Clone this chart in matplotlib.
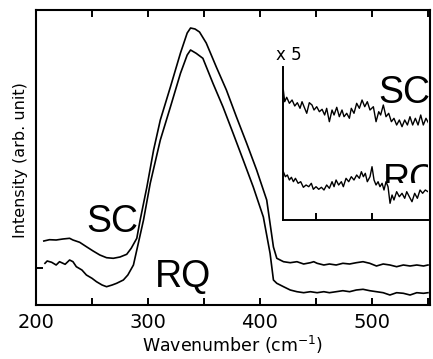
import matplotlib
matplotlib.use("Agg")
import matplotlib.pyplot as plt
from matplotlib.transforms import Bbox, TransformedBbox

# ---- data (wavenumber in cm^-1, intensity in arb. units) ----
sc_x = [207, 212, 218, 224, 230, 233, 239, 245, 251, 257, 263, 269, 275, 281, 285, 290, 293, 299,
        305, 311, 320, 329, 335, 338, 342, 346, 352, 361, 370, 379, 388, 397, 406, 412, 415, 421,
        427, 433, 439, 445, 448, 451, 457, 462, 468, 474, 480, 486, 492, 498, 504, 510, 516, 522,
        528, 534, 540, 546, 550]
sc_y = [64, 65.3, 65, 66, 66.7, 65, 62.7, 58.3, 54, 50, 47.3, 46.7, 48, 50.7, 56.7, 66.7, 85, 118,
        155, 185, 218, 252, 272, 277, 276, 273, 262, 238, 215, 188, 162, 135, 105, 58, 46.7, 43.3,
        42.3, 43.3, 41, 42.3, 43.3, 41.7, 40, 41, 40, 41.7, 41, 42.3, 43.3, 41.7, 39, 41, 40, 38.3,
        40, 39, 40, 39, 40]

rq_x = [208, 210, 214, 218, 221, 226, 230, 233, 236, 241, 245, 250, 254, 259, 263, 268, 272, 278,
        282, 287, 291, 296, 302, 311, 320, 329, 335, 338, 343, 349, 358, 367, 376, 385, 394, 403,
        409, 412, 415, 421, 427, 433, 439, 445, 451, 457, 462, 468, 474, 480, 486, 492, 498, 504,
        510, 516, 522, 528, 534, 540, 546, 550]
rq_y = [41.7, 44, 42.7, 40, 43.3, 40.7, 45, 43.3, 38.3, 35, 30, 26.7, 23.3, 20, 18.3, 20, 21.7, 25,
        30, 40, 60, 85, 121.7, 165, 198, 231.7, 250, 255, 251.7, 246.7, 221.7, 198, 171.7, 145, 118,
        88, 51.7, 25, 21.7, 18.3, 15, 13.3, 12.3, 13.3, 12.3, 13.3, 12.3, 13.3, 14.3, 13.3, 15, 15.7,
        14.3, 13.3, 12.3, 10, 12.3, 11.7, 10, 12.3, 11.7, 12.3]

# inset (x5)
ins_x = [420.8, 422.0, 423.8, 426.2, 428.6, 431.0, 433.3, 435.7, 437.5, 439.3, 441.7, 444.0, 446.4,
         448.2, 450.6, 453.0, 455.4, 457.7, 459.5, 461.9, 464.3, 466.1, 468.5, 470.8, 473.2, 475.0,
         477.4, 479.8, 481.5, 483.9, 486.3, 488.7, 491.1, 493.5, 495.8, 498.2, 501.2, 503.6, 506.0,
         507.7, 510.1, 512.5, 514.9, 517.3, 519.6, 522.0, 524.4, 526.8, 529.2, 531.6, 533.9, 536.3,
         538.7, 541.1, 543.5, 545.8, 548.2, 550.6]
ins_sc = [130, 118.3, 122.7, 116.7, 120, 114, 117.3, 111.7, 118.3, 113.3, 106.7, 117.3, 115, 110,
          113.3, 108.3, 110.7, 105, 111.7, 98.3, 110, 105, 112.7, 103.3, 110, 103.3, 106.7, 101.7,
          111.7, 106.7, 116.7, 111.7, 120, 113.3, 118.3, 110, 113.3, 98.3, 108.3, 105, 115, 103.3,
          106.7, 98.3, 101.7, 95, 100, 93.3, 100, 95, 103.3, 95, 101.7, 95, 105, 95, 101.7, 96.7]

ins_x2 = [420.8, 422.6, 424.4, 426.2, 428.0, 429.8, 431.6, 434.0, 436.3, 438.7, 441.1, 443.5, 445.8,
          447.6, 450.0, 452.4, 454.8, 457.1, 459.5, 461.9, 464.3, 466.1, 467.9, 470.2, 472.6, 474.4,
          476.8, 479.2, 481.5, 483.9, 486.3, 488.7, 490.5, 492.3, 494.0, 495.8, 498.2, 500.0, 501.8,
          503.6, 505.4, 507.1, 509.0, 510.7, 512.5, 514.3, 516.1, 517.9, 519.6, 522.0, 524.4, 526.8,
          529.2, 531.0, 533.3, 535.7, 538.1, 540.5, 542.9, 545.2, 547.6, 550.0]
ins_rq = [48.3, 43.3, 45, 40, 42.7, 38.3, 41.7, 36.7, 38.3, 32.7, 35, 33.3, 36.7, 30.7, 33.3, 30.7,
          32.7, 30, 35, 31.7, 38.3, 33.3, 40, 35, 38.3, 33.3, 41.7, 38.3, 43.3, 40, 45, 41.7, 48.3,
          43.3, 46.7, 38.3, 43.3, 53.3, 40, 35, 38.3, 33.3, 36.7, 30, 38.3, 33.3, 16.7, 25, 20, 28.3,
          23.3, 26.7, 21.7, 28.3, 23.3, 18.3, 26.7, 21.7, 30, 26.7, 30, 28.3]

xticks_major = [200, 300, 400, 500]
xticks_all = [200, 250, 300, 350, 400, 450, 500, 550]
inset_ticks = [450, 500]

# ---- figure ----
W, H = 433, 359
fig = plt.figure(figsize=(W / 100, H / 100), dpi=100)
plt.rcParams['font.family'] = ['DejaVu Sans']

def fr(x0, y0, x1, y1):
    return [x0 / W, 1 - y1 / H, (x1 - x0) / W, (y1 - y0) / H]

ax = fig.add_axes(fr(36, 10, 430, 305))
ax.plot(sc_x, sc_y, color='black', lw=1.2)
ax.plot(rq_x, rq_y, color='black', lw=1.2)
ax.set_xlim(200, 551.8)
ax.set_ylim(0, 295)
for s in ax.spines.values():
    s.set_linewidth(1.5)
ax.set_xticks(xticks_all)
ax.set_xticklabels([str(t) if t in xticks_major else '' for t in xticks_all])
ax.set_yticks([37])
ax.set_yticklabels([''])
ax.tick_params(axis='x', direction='in', length=5, width=1.4, top=True, labelsize=14, pad=6)
ax.tick_params(axis='y', direction='in', length=5, width=1.4)
ax.set_xlabel(r'Wavenumber (cm$^{\mathregular{-1}}$)', fontsize=12.5, labelpad=1)
ax.set_ylabel('Intensity (arb. unit)', fontsize=11.5)
ax.yaxis.set_label_coords(-0.02, 0.49)

big = dict(family='Liberation Sans', fontsize=27, color='black')
ax.text(244.5, 73, 'SC', ha='left', va='baseline', **big)
ax.text(306, 18, 'RQ', ha='left', va='baseline', **big)

# ---- inset ----
axi = fig.add_axes(fr(283, 67, 428, 220))
axi.patch.set_alpha(0)
axi.plot(ins_x, ins_sc, color='black', lw=1.0)
axi.plot(ins_x2, ins_rq, color='black', lw=1.0)
axi.set_xlim(420.5, 550)
axi.set_ylim(0, 153)
axi.spines['top'].set_visible(False)
axi.spines['right'].set_visible(False)
for s in ('left', 'bottom'):
    axi.spines[s].set_linewidth(1.4)
axi.set_xticks(inset_ticks)
axi.set_xticklabels(['', ''])
axi.set_yticks([])
axi.tick_params(axis='x', direction='in', length=5, width=1.4)
axi.text(505.4, 117, 'SC', ha='left', va='baseline', **big)
t = axi.text(509.8, 29, 'RQ', ha='left', va='baseline', **big)
t.set_clip_box(TransformedBbox(Bbox([[420.5, 37], [550, 153]]), axi.transData))
t.set_clip_on(True)
fig.text(276 / W, 1 - 60 / H, 'x 5', fontsize=12, ha='left', va='baseline')

fig.savefig('out.png', dpi=100)
